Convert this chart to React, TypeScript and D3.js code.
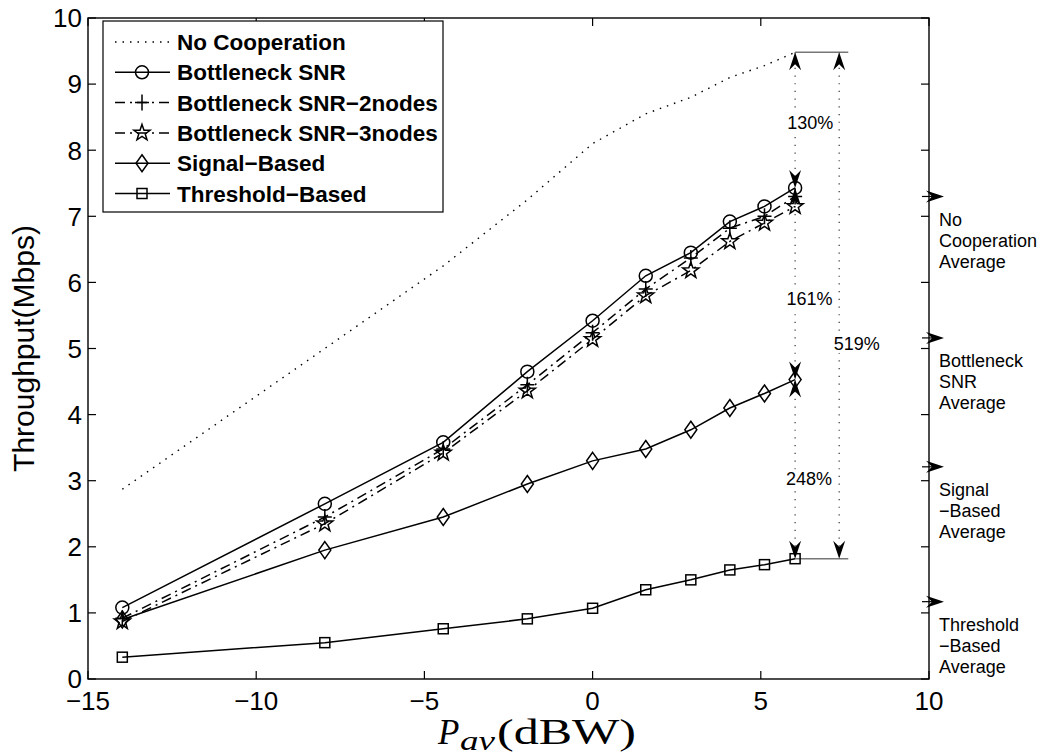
import * as d3 from "d3";

const W = 1053;
const H = 755;
const M = { left: 88, right: 929, top: 18, bottom: 679 };

// Pav in dBW
const powerDbw = [-13.98, -7.96, -4.44, -1.94, 0, 1.58, 2.92, 4.08, 5.11, 6.02];
// throughput (Mbps)
const noCoop = [2.87, 5.0, 6.25, 7.25, 8.1, 8.55, 8.8, 9.1, 9.28, 9.48];
const bottleneck = [1.08, 2.65, 3.58, 4.65, 5.42, 6.1, 6.45, 6.92, 7.15, 7.43];
const bottleneck2 = [0.92, 2.45, 3.48, 4.45, 5.24, 5.9, 6.37, 6.82, 7.0, 7.3];
const bottleneck3 = [0.87, 2.35, 3.42, 4.36, 5.14, 5.8, 6.18, 6.62, 6.9, 7.15];
const signalBased = [0.9, 1.95, 2.45, 2.95, 3.3, 3.48, 3.77, 4.1, 4.32, 4.53];
const thresholdBased = [0.33, 0.55, 0.76, 0.91, 1.07, 1.35, 1.5, 1.65, 1.73, 1.82];

const xTicks = [-15, -10, -5, 0, 5, 10];
const yTicks = d3.range(0, 11);

// gain annotations
const gainX = 6.02;
const gainX2 = 7.33;
const gainEndX = 7.6;
const gains = [
  { from: 9.48, to: 7.43, label: "130%", ly: 8.41, x: gainX, lx: 6.47 },
  { from: 7.43, to: 4.53, label: "161%", ly: 5.75, x: gainX, lx: 6.45 },
  { from: 4.53, to: 1.82, label: "248%", ly: 3.03, x: gainX, lx: 6.43 },
  { from: 9.48, to: 1.82, label: "519%", ly: 5.07, x: gainX2, lx: 7.85 },
];

const averages = [7.3, 5.16, 3.21, 1.17];
const averageLabels = [
  ["No", "Cooperation", "Average"],
  ["Bottleneck", "SNR", "Average"],
  ["Signal", "\u2212Based", "Average"],
  ["Threshold", "\u2212Based", "Average"],
];

type Marker = "none" | "circle" | "plus" | "star" | "diamond" | "square";

const series: { name: string; values: number[]; dash?: string; marker: Marker }[] = [
  { name: "No Cooperation", values: noCoop, dash: "1.5,6", marker: "none" },
  { name: "Bottleneck SNR", values: bottleneck, marker: "circle" },
  { name: "Bottleneck SNR\u22122nodes", values: bottleneck2, dash: "10,5,2,5", marker: "plus" },
  { name: "Bottleneck SNR\u22123nodes", values: bottleneck3, dash: "10,5,2,5", marker: "star" },
  { name: "Signal\u2212Based", values: signalBased, marker: "diamond" },
  { name: "Threshold\u2212Based", values: thresholdBased, marker: "square" },
];

const x = d3.scaleLinear().domain([-15, 10]).range([M.left, M.right]);
const y = d3.scaleLinear().domain([0, 10]).range([M.bottom, M.top]);

function starPath(r: number) {
  const pts: [number, number][] = [];
  for (let i = 0; i < 10; i++) {
    const a = -Math.PI / 2 + (i * Math.PI) / 5;
    const rr = i % 2 === 0 ? r : r * 0.4;
    pts.push([rr * Math.cos(a), rr * Math.sin(a)]);
  }
  return "M" + pts.map((p) => p.join(",")).join("L") + "Z";
}

function MarkerShape({ type, cx, cy }: { type: Marker; cx: number; cy: number }) {
  const common = { fill: "none", stroke: "#000", strokeWidth: 1.5 };
  switch (type) {
    case "circle":
      return <circle cx={cx} cy={cy} r={6.5} {...common} />;
    case "plus":
      return (
        <path d={`M${cx - 7},${cy}H${cx + 7}M${cx},${cy - 8}V${cy + 8}`} {...common} />
      );
    case "star":
      return <path d={starPath(8.5)} transform={`translate(${cx},${cy})`} {...common} />;
    case "diamond":
      return (
        <path
          d={`M${cx},${cy - 8.5}L${cx + 6},${cy}L${cx},${cy + 8.5}L${cx - 6},${cy}Z`}
          {...common}
        />
      );
    case "square":
      return <rect x={cx - 5} y={cy - 5} width={10} height={10} {...common} />;
    default:
      return null;
  }
}

function Arrowhead({ tx, ty, angle }: { tx: number; ty: number; angle: number }) {
  const L = 18;
  const Wd = 12;
  const N = 6;
  return (
    <path
      d={`M0,0L${-L},${-Wd / 2}L${-L + N},0L${-L},${Wd / 2}Z`}
      transform={`translate(${tx},${ty}) rotate(${angle})`}
      fill="#000"
    />
  );
}

export default function App() {
  const line = d3
    .line<number>()
    .x((_, i) => x(powerDbw[i]))
    .y((d) => y(d));

  const sans = "'Liberation Sans', Arial, Helvetica, sans-serif";
  const serif = "'Liberation Serif', 'Times New Roman', serif";
  const legRow = (i: number) => 42 + i * 30.3;

  return (
    <svg
      width={W}
      height={H}
      viewBox={`0 0 ${W} ${H}`}
      style={{ position: "absolute", left: 0, top: 0, background: "#fff" }}
      fontFamily={sans}
    >
      <rect width={W} height={H} fill="#fff" />

      {/* annotation guides */}
      {[gainX, gainX2].map((gx) => (
        <line
          key={gx}
          x1={x(gx)}
          x2={x(gx)}
          y1={y(9.48)}
          y2={y(1.82)}
          stroke="#333"
          strokeWidth={1.2}
          strokeDasharray="1.2,6.5"
        />
      ))}
      {[9.48, 1.82].map((v) => (
        <line
          key={v}
          x1={x(gainX)}
          x2={x(gainEndX)}
          y1={y(v)}
          y2={y(v)}
          stroke="#777"
          strokeWidth={1.5}
        />
      ))}

      {/* data lines */}
      {series.map((s) => (
        <path
          key={s.name}
          d={line(s.values) ?? ""}
          fill="none"
          stroke="#000"
          strokeWidth={s.marker === "none" ? 1.4 : 1.5}
          strokeDasharray={s.dash}
        />
      ))}
      {series.map((s) =>
        s.values.map((v, i) => (
          <MarkerShape key={s.name + i} type={s.marker} cx={x(powerDbw[i])} cy={y(v)} />
        ))
      )}

      {/* gain arrows */}
      {gains.map((g) => (
        <g key={g.label}>
          <Arrowhead tx={x(g.x)} ty={y(g.from)} angle={-90} />
          <Arrowhead tx={x(g.x)} ty={y(g.to)} angle={90} />
        </g>
      ))}
      {gains.map((g) => (
        <g key={"t" + g.label}>
          <rect x={x(g.lx) - 24} y={y(g.ly) - 9} width={48} height={18} fill="#fff" />
          <text
            x={x(g.lx)}
            y={y(g.ly)}
            dy="0.35em"
            textAnchor="middle"
            fontSize={18}
            fill="#000"
          >
            {g.label}
          </text>
        </g>
      ))}

      {/* axes box */}
      <rect
        x={M.left}
        y={M.top}
        width={M.right - M.left}
        height={M.bottom - M.top}
        fill="none"
        stroke="#000"
        strokeWidth={1.4}
      />
      {xTicks.map((t) => (
        <g key={"x" + t}>
          <line x1={x(t)} x2={x(t)} y1={M.bottom} y2={M.bottom - 8} stroke="#000" strokeWidth={1.2} />
          <line x1={x(t)} x2={x(t)} y1={M.top} y2={M.top + 8} stroke="#000" strokeWidth={1.2} />
          <text x={x(t)} y={710} textAnchor="middle" fontSize={26} fill="#000">
            {t < 0 ? "\u2212" + Math.abs(t) : t}
          </text>
        </g>
      ))}
      {yTicks.map((t) => (
        <g key={"y" + t}>
          <line x1={M.left} x2={M.left + 8} y1={y(t)} y2={y(t)} stroke="#000" strokeWidth={1.2} />
          <line x1={M.right} x2={M.right - 8} y1={y(t)} y2={y(t)} stroke="#000" strokeWidth={1.2} />
          <text x={82} y={y(t)} dy="0.36em" textAnchor="end" fontSize={26} fill="#000">
            {t}
          </text>
        </g>
      ))}

      {/* axis labels */}
      <text
        transform={`translate(34,${(M.top + M.bottom) / 2}) rotate(-90)`}
        textAnchor="middle"
        fontSize={30}
        fill="#000"
      >
        Throughput(Mbps)
      </text>
      <g fontFamily={serif} fill="#000">
        <text x={438} y={744} fontSize={35} fontStyle="italic">
          P
        </text>
        <text
          x={460}
          y={750}
          fontSize={27}
          fontStyle="italic"
          textLength={35}
          lengthAdjust="spacingAndGlyphs"
        >
          av
        </text>
        <text
          x={497}
          y={744}
          fontSize={35}
          textLength={139}
          lengthAdjust="spacingAndGlyphs"
        >
          (dBW)
        </text>
      </g>

      {/* averages on the right */}
      {averages.map((a, i) => (
        <g key={"avg" + i}>
          <line x1={922} x2={940} y1={y(a)} y2={y(a)} stroke="#000" strokeWidth={1.2} />
          <Arrowhead tx={944} ty={y(a)} angle={0} />
          {averageLabels[i].map((ln, j) => (
            <text key={ln + j} x={939} y={y(a) + 29.5 + j * 21} fontSize={18} fill="#000">
              {ln}
            </text>
          ))}
        </g>
      ))}

      {/* legend */}
      <rect x={103} y={21} width={340} height={191} fill="#fff" stroke="#000" strokeWidth={1.2} />
      {series.map((s, i) => (
        <g key={"leg" + s.name}>
          <line
            x1={115}
            x2={170}
            y1={legRow(i)}
            y2={legRow(i)}
            stroke="#000"
            strokeWidth={1.5}
            strokeDasharray={s.dash}
          />
          <MarkerShape type={s.marker} cx={142} cy={legRow(i)} />
          <text x={177} y={legRow(i)} dy="0.36em" fontSize={22.5} fontWeight="bold" fill="#000">
            {s.name}
          </text>
        </g>
      ))}
    </svg>
  );
}
